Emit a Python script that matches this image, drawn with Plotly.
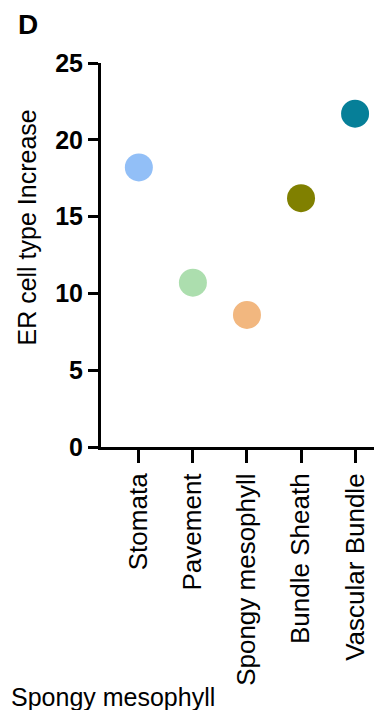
import plotly.graph_objects as go

categories = ["Stomata", "Pavement", "Spongy mesophyll", "Bundle Sheath", "Vascular Bundle"]
values = [18.2, 10.7, 8.6, 16.2, 21.7]
colors = ["#92BFF7", "#ACDEAE", "#F2B77F", "#808000", "#067F98"]
y_ticks = [0, 5, 10, 15, 20, 25]

fig = go.Figure()
fig.add_trace(go.Scatter(
    x=list(range(len(categories))),
    y=values,
    mode="markers",
    marker=dict(color=colors, size=28, line=dict(width=0)),
    showlegend=False,
))

fig.update_layout(
    width=366, height=702,
    margin=dict(l=93, r=0, t=55, b=263),
    paper_bgcolor="white", plot_bgcolor="white",
    xaxis=dict(
        range=[-0.7, 4.35],
        tickmode="array",
        tickvals=list(range(len(categories))),
        ticktext=categories,
        tickangle=-90,
        ticks="outside", ticklen=13, tickwidth=3, tickcolor="black",
        showline=True, linewidth=3, linecolor="black",
        showgrid=False, zeroline=False,
        tickfont=dict(family="Liberation Sans, Arial", size=26, color="black"),
    ),
    yaxis=dict(
        range=[0, 25],
        tickmode="array",
        tickvals=y_ticks,
        ticks="outside", ticklen=10, tickwidth=3, tickcolor="black",
        showline=True, linewidth=3, linecolor="black",
        showgrid=False, zeroline=False,
        tickfont=dict(family="Liberation Sans, Arial", size=25, color="black", weight="bold"),
    ),
    annotations=[
        dict(text="ER cell type Increase", textangle=-90, xref="paper", yref="paper",
             x=-0.2747, y=0.5716, xanchor="center", yanchor="middle", showarrow=False,
             font=dict(family="Liberation Sans, Arial", size=25, color="black")),
        dict(text="<b>D</b>", xref="paper", yref="paper",
             x=-0.2674, y=1.099, xanchor="center", yanchor="middle", showarrow=False,
             font=dict(family="Liberation Sans, Arial", size=28, color="black")),
        dict(text="Spongy mesophyll", xref="paper", yref="paper",
             x=-0.338, y=-0.651, xanchor="left", yanchor="middle", showarrow=False,
             font=dict(family="Liberation Sans, Arial", size=25, color="black")),
    ],
)

fig.write_html("out.html")
